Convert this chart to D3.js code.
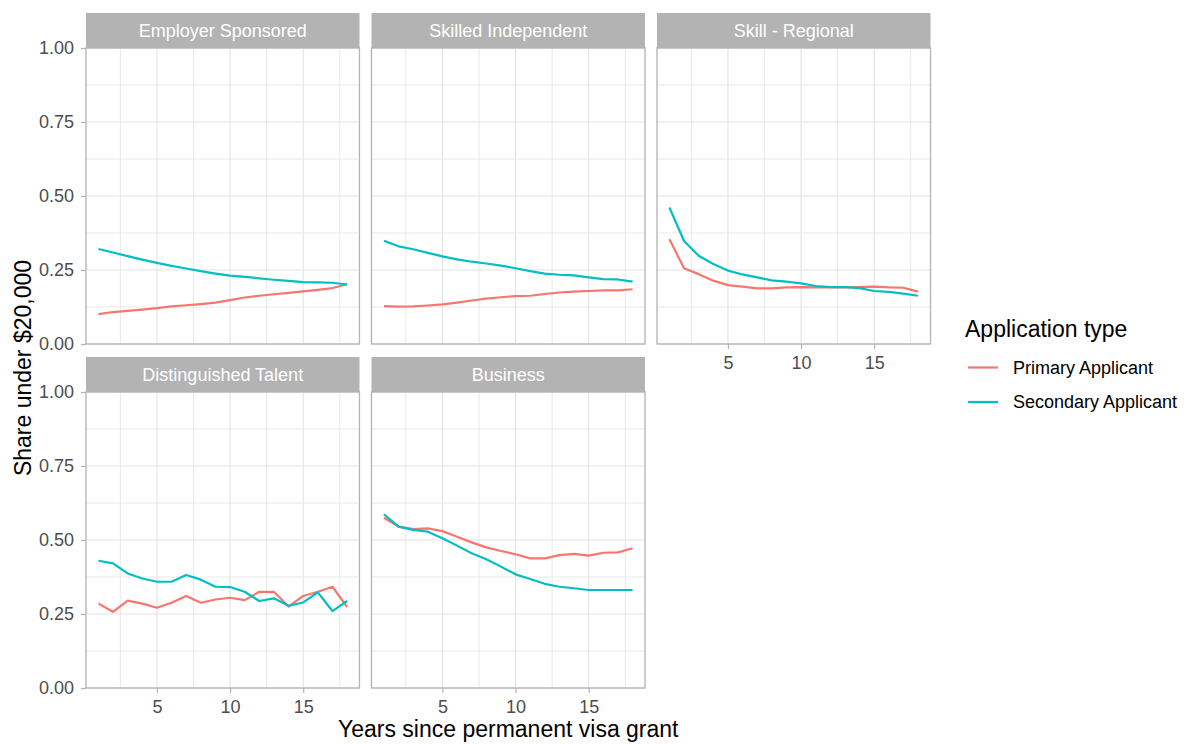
<!DOCTYPE html>
<html>
<head>
<meta charset="utf-8">
<script src="https://cdn.jsdelivr.net/npm/d3@7"></script>
<style>
  html, body { margin: 0; padding: 0; background: #ffffff; }
  svg { display: block; font-family: "Liberation Sans", Arial, Helvetica, sans-serif; }
</style>
</head>
<body>
<svg id="chart" width="1193" height="744"></svg>
<script>
// Years since permanent visa grant
const years = [1, 2, 3, 4, 5, 6, 7, 8, 9, 10, 11, 12, 13, 14, 15, 16, 17, 18];

// Visa streams, one facet each, in facet order
const visaTypes = ["Employer Sponsored", "Skilled Independent", "Skill - Regional", "Distinguished Talent", "Business"];

// Series names
const applicationTypes = ["Primary Applicant", "Secondary Applicant"];

// Share of each cohort earning under $20,000
const employerPrimary    = [0.101, 0.108, 0.112, 0.116, 0.121, 0.127, 0.131, 0.135, 0.140, 0.148, 0.157, 0.163, 0.168, 0.173, 0.178, 0.183, 0.189, 0.202];
const employerSecondary  = [0.321, 0.309, 0.297, 0.285, 0.274, 0.264, 0.255, 0.246, 0.238, 0.231, 0.227, 0.222, 0.217, 0.213, 0.209, 0.208, 0.207, 0.201];

const skilledPrimary     = [0.128, 0.126, 0.127, 0.130, 0.134, 0.140, 0.147, 0.153, 0.158, 0.162, 0.163, 0.169, 0.174, 0.177, 0.179, 0.181, 0.181, 0.185];
const skilledSecondary   = [0.349, 0.330, 0.320, 0.308, 0.296, 0.286, 0.278, 0.272, 0.265, 0.256, 0.246, 0.238, 0.234, 0.232, 0.225, 0.219, 0.218, 0.211];

const regionalPrimary    = [0.354, 0.256, 0.236, 0.214, 0.199, 0.194, 0.188, 0.188, 0.191, 0.192, 0.191, 0.191, 0.191, 0.192, 0.194, 0.191, 0.190, 0.177];
const regionalSecondary  = [0.461, 0.348, 0.298, 0.270, 0.248, 0.235, 0.225, 0.215, 0.211, 0.205, 0.196, 0.192, 0.192, 0.189, 0.179, 0.176, 0.170, 0.163];

const talentPrimary      = [0.286, 0.257, 0.295, 0.285, 0.271, 0.288, 0.311, 0.288, 0.299, 0.305, 0.297, 0.325, 0.325, 0.275, 0.311, 0.325, 0.342, 0.274];
const talentSecondary    = [0.430, 0.421, 0.387, 0.370, 0.359, 0.359, 0.382, 0.366, 0.342, 0.341, 0.325, 0.294, 0.303, 0.278, 0.289, 0.323, 0.260, 0.294];

const businessPrimary    = [0.575, 0.545, 0.537, 0.539, 0.530, 0.511, 0.492, 0.475, 0.463, 0.452, 0.438, 0.438, 0.449, 0.453, 0.447, 0.457, 0.458, 0.472];
const businessSecondary  = [0.587, 0.545, 0.534, 0.528, 0.506, 0.481, 0.455, 0.435, 0.410, 0.384, 0.368, 0.352, 0.342, 0.337, 0.331, 0.331, 0.331, 0.331];

// Axis ticks
const xTicks = [5, 10, 15];
const xMinor = [2.5, 7.5, 12.5, 17.5];
const yTicks = [0, 0.25, 0.5, 0.75, 1];
const yMinor = [0.125, 0.375, 0.625, 0.875];

// Series table per facet
const seriesByType = {
  "Employer Sponsored":   [employerPrimary, employerSecondary],
  "Skilled Independent":  [skilledPrimary, skilledSecondary],
  "Skill - Regional":     [regionalPrimary, regionalSecondary],
  "Distinguished Talent": [talentPrimary, talentSecondary],
  "Business":             [businessPrimary, businessSecondary]
};

// Layout
const panelW = 273.5, panelH = 296, stripH = 35;
const colStep = 285.5, firstLeft = 86;
const rowTops = [48, 392];
const nCols = 3;

const colour = d3.scaleOrdinal().domain(applicationTypes).range(["#F8766D", "#00BFC4"]);

const x = d3.scaleLinear().domain([0.15, 18.85]).range([0, panelW]);
const y = d3.scaleLinear().domain([0, 1]).range([panelH, 0]);

const line = d3.line()
  .x((d, i) => x(years[i]))
  .y(d => y(d));

const svg = d3.select("#chart");
svg.append("rect").attr("width", 1193).attr("height", 744).attr("fill", "#ffffff");

const gridCol = "#e3e3e3", frameCol = "#b3b3b3", tickText = "#4d4d4d";

visaTypes.forEach((type, k) => {
  const col = k % nCols, row = Math.floor(k / nCols);
  const left = firstLeft + col * colStep, top = rowTops[row];
  const g = svg.append("g").attr("transform", `translate(${left},${top})`);

  // grid: minor then major
  g.selectAll(".gxm").data(xMinor).join("line")
    .attr("x1", d => x(d)).attr("x2", d => x(d)).attr("y1", 0).attr("y2", panelH)
    .attr("stroke", gridCol).attr("stroke-width", 0.8);
  g.selectAll(".gym").data(yMinor).join("line")
    .attr("x1", 0).attr("x2", panelW).attr("y1", d => y(d)).attr("y2", d => y(d))
    .attr("stroke", gridCol).attr("stroke-width", 0.8);
  g.selectAll(".gx").data(xTicks).join("line")
    .attr("x1", d => x(d)).attr("x2", d => x(d)).attr("y1", 0).attr("y2", panelH)
    .attr("stroke", gridCol).attr("stroke-width", 1.1);
  g.selectAll(".gy").data(yTicks).join("line")
    .attr("x1", 0).attr("x2", panelW).attr("y1", d => y(d)).attr("y2", d => y(d))
    .attr("stroke", gridCol).attr("stroke-width", 1.1);

  // series lines
  seriesByType[type].forEach((vals, s) => {
    g.append("path")
      .datum(vals)
      .attr("d", line)
      .attr("fill", "none")
      .attr("stroke", colour(applicationTypes[s]))
      .attr("stroke-width", 2.2)
      .attr("stroke-linejoin", "round")
      .attr("stroke-linecap", "butt");
  });

  // frame
  g.append("rect").attr("x", 0).attr("y", 0).attr("width", panelW).attr("height", panelH)
    .attr("fill", "none").attr("stroke", frameCol).attr("stroke-width", 1.3);

  // strip
  g.append("rect").attr("x", 0).attr("y", -stripH).attr("width", panelW).attr("height", stripH)
    .attr("fill", "#b3b3b3");
  g.append("text").attr("x", panelW / 2).attr("y", -stripH / 2).attr("dy", "0.35em")
    .attr("text-anchor", "middle").attr("fill", "#ffffff").attr("font-size", 18)
    .text(type);

  // left axis on first column
  if (col === 0) {
    const ax = g.append("g").call(
      d3.axisLeft(y).tickValues(yTicks).tickFormat(d3.format(".2f")).tickSize(5).tickPadding(7)
    );
    ax.select(".domain").remove();
    ax.selectAll("line").attr("stroke", frameCol).attr("stroke-width", 1.2);
    ax.selectAll("text").attr("fill", tickText).attr("font-size", 18)
      .attr("font-family", "'Liberation Sans', Arial, sans-serif");
  }

  // bottom axis where no panel sits below
  const hasBelow = (k + nCols) < visaTypes.length;
  if (!hasBelow) {
    const ax = g.append("g").attr("transform", `translate(0,${panelH})`).call(
      d3.axisBottom(x).tickValues(xTicks).tickFormat(d3.format("d")).tickSize(5).tickPadding(7.5)
    );
    ax.select(".domain").remove();
    ax.selectAll("line").attr("stroke", frameCol).attr("stroke-width", 1.2);
    ax.selectAll("text").attr("fill", tickText).attr("font-size", 18)
      .attr("font-family", "'Liberation Sans', Arial, sans-serif");
  }
});

// axis titles
svg.append("text")
  .attr("x", firstLeft + (2 * colStep + panelW) / 2).attr("y", 737)
  .attr("text-anchor", "middle").attr("font-size", 23).attr("fill", "#000")
  .text("Years since permanent visa grant");

svg.append("text")
  .attr("transform", `translate(31,${(rowTops[0] + rowTops[1] + panelH) / 2}) rotate(-90)`)
  .attr("text-anchor", "middle").attr("font-size", 23).attr("fill", "#000")
  .text("Share under $20,000");

// legend
const legend = svg.append("g").attr("transform", "translate(965,0)");
legend.append("text").attr("x", 0).attr("y", 337).attr("font-size", 23).attr("fill", "#000")
  .text("Application type");
applicationTypes.forEach((name, i) => {
  const ly = 367.5 + i * 34.5;
  legend.append("line").attr("x1", 3).attr("x2", 33).attr("y1", ly).attr("y2", ly)
    .attr("stroke", colour(name)).attr("stroke-width", 2.2);
  legend.append("text").attr("x", 48).attr("y", ly).attr("dy", "0.35em")
    .attr("font-size", 18).attr("fill", "#000").text(name);
});
</script>
</body>
</html>
